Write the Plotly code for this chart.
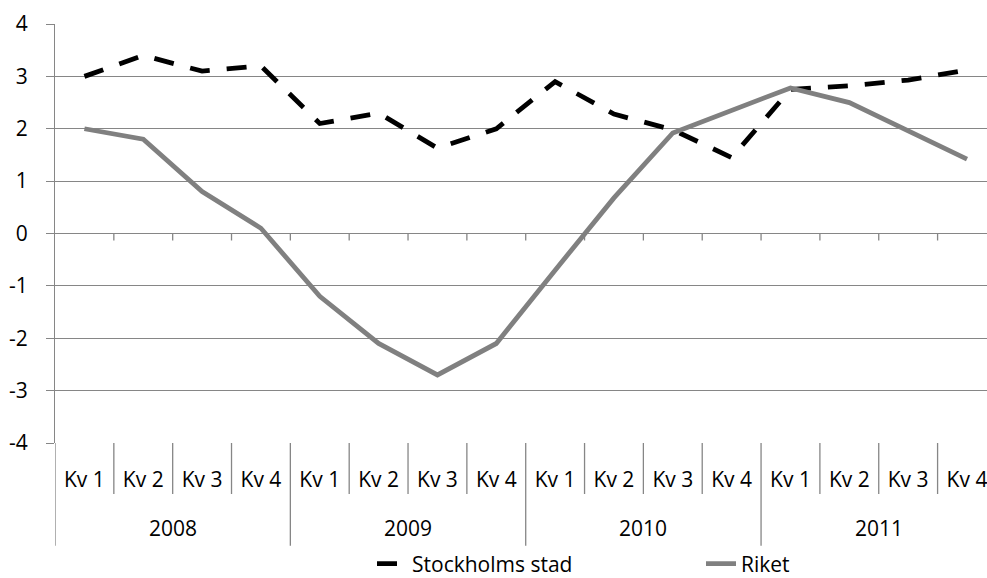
import plotly.graph_objects as go

years = ["2008", "2009", "2010", "2011"]
quarters = ["Kv 1", "Kv 2", "Kv 3", "Kv 4"]
stockholm = [3.0, 3.4, 3.1, 3.2, 2.1, 2.3, 1.63, 2.0, 2.9, 2.28, 1.98, 1.45, 2.75, 2.82, 2.93, 3.12]
riket = [2.0, 1.8, 0.8, 0.1, -1.2, -2.1, -2.7, -2.1, -0.7, 0.68, 1.92, 2.36, 2.78, 2.5, 1.95, 1.42]
y_ticks = [-4, -3, -2, -1, 0, 1, 2, 3, 4]
y_tick_text = [str(v) for v in y_ticks]

n = len(years) * len(quarters)
x_idx = list(range(n))
q_labels = [q for _ in years for q in quarters]

FONT = "Open Sans"
FS = 21
GRID = "#868686"
W, H = 987, 578
ML, MT, MB = 55, 24, 135
PLOT_W = W - ML
PLOT_H = H - MT - MB  # 419
Y_UNIT = PLOT_H / 8.0

fig = go.Figure()
fig.add_trace(go.Scatter(
    x=x_idx, y=stockholm, mode="lines", name="Stockholms stad",
    line=dict(color="black", width=4.8, dash="20px,17px"),
))
fig.add_trace(go.Scatter(
    x=x_idx, y=riket, mode="lines", name="Riket",
    line=dict(color="#808080", width=4.8),
))

shapes = []
for b in range(n + 1):
    is_year = (b % len(quarters) == 0)
    depth = 102.7 if is_year else 51
    shapes.append(dict(type="line", xref="x", yref="paper",
                       x0=b - 0.5, x1=b - 0.5, y0=0, y1=-depth / PLOT_H,
                       line=dict(color=GRID, width=1.3), layer="below"))
    if b > 0:
        shapes.append(dict(type="line", xref="x", yref="y",
                           x0=b - 0.5, x1=b - 0.5, y0=0, y1=-7 / Y_UNIT,
                           line=dict(color=GRID, width=1.3), layer="below"))

annotations = []
for i, yr in enumerate(years):
    annotations.append(dict(x=i * len(quarters) + (len(quarters) - 1) / 2, xref="x",
                            y=-85 / PLOT_H, yref="paper", text=yr, showarrow=False,
                            font=dict(family=FONT, size=FS, color="black"),
                            xanchor="center", yanchor="middle"))

fig.update_layout(
    width=W, height=H,
    margin=dict(l=ML, r=0, t=MT, b=MB, pad=0, autoexpand=False),
    paper_bgcolor="white", plot_bgcolor="white",
    font=dict(family=FONT, size=FS, color="black"),
    showlegend=True,
    legend=dict(orientation="h", x=(1030 - ML) / PLOT_W, xanchor="right",
                y=-(564 - 443) / PLOT_H, yanchor="middle",
                entrywidth=284, entrywidthmode="pixels",
                font=dict(family=FONT, size=FS, color="black"),
                bgcolor="rgba(0,0,0,0)"),
    shapes=shapes,
    annotations=annotations,
    xaxis=dict(range=[-0.5, 15.34], tickmode="array", tickvals=x_idx, ticktext=q_labels,
               showgrid=False, zeroline=False, showline=False, ticks="",
               ticklabelstandoff=22, ticklabeloverflow="allow",
               tickfont=dict(family=FONT, size=FS, color="black"),
               automargin=False, fixedrange=True),
    yaxis=dict(range=[-4, 4], tickmode="array", tickvals=y_ticks, ticktext=y_tick_text,
               showgrid=True, gridcolor=GRID, gridwidth=1.3,
               zeroline=False, showline=True, linecolor=GRID, linewidth=1.3,
               ticks="outside", ticklen=8, tickcolor=GRID, tickwidth=1.3,
               ticklabelstandoff=14, tickfont=dict(family=FONT, size=FS, color="black"),
               automargin=False, fixedrange=True),
)

fig.write_html("out.html", config={"displayModeBar": False},
               post_script="document.body.style.margin='0';document.body.style.overflow='hidden';")
